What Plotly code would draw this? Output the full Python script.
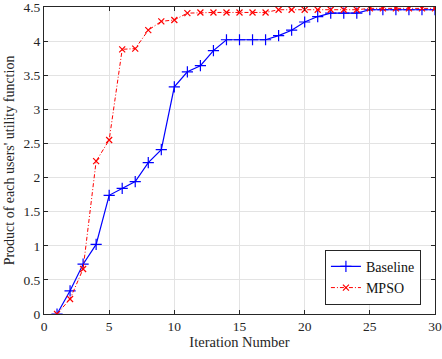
import plotly.graph_objects as go

iterations = list(range(1, 31))
baseline = [0, 0.34, 0.73, 1.02, 1.74, 1.84, 1.94, 2.22, 2.41, 3.33,
            3.55, 3.64, 3.86, 4.02, 4.02, 4.02, 4.02, 4.08, 4.16, 4.28,
            4.36, 4.41, 4.41, 4.41, 4.46, 4.46, 4.46, 4.46, 4.46, 4.46]
mpso = [0, 0.22, 0.66, 2.24, 2.55, 3.88, 3.89, 4.16, 4.29, 4.31,
        4.41, 4.42, 4.42, 4.42, 4.42, 4.42, 4.42, 4.46, 4.46, 4.46,
        4.46, 4.46, 4.46, 4.46, 4.48, 4.48, 4.48, 4.48, 4.48, 4.48]
x_ticks = [0, 5, 10, 15, 20, 25, 30]
y_ticks = [0, 0.5, 1, 1.5, 2, 2.5, 3, 3.5, 4, 4.5]

SERIF = "Liberation Serif"
DARK = "#262626"

fig = go.Figure()
fig.add_trace(go.Scatter(
    x=iterations, y=baseline, name="Baseline", mode="lines+markers",
    line=dict(color="#0000FF", width=1.2),
    marker=dict(symbol="cross-thin", size=8, color="#0000FF",
                line=dict(color="#0000FF", width=1.2))))
fig.add_trace(go.Scatter(
    x=iterations, y=mpso, name="MPSO", mode="lines+markers",
    line=dict(color="#FF0000", width=1, dash="4px,2px,1px,2px"),
    marker=dict(symbol="x-thin", size=6, color="#FF0000",
                line=dict(color="#FF0000", width=1.2))))

axis_common = dict(
    showline=True, linecolor=DARK, linewidth=1, mirror="ticks",
    ticks="inside", ticklen=4, tickcolor=DARK,
    showgrid=True, gridcolor="#E3E3E3", gridwidth=1, zeroline=False,
    automargin=False, ticklabeloverflow="allow",
    tickfont=dict(family=SERIF, size=13.5, color=DARK),
)
fig.update_xaxes(range=[0, 30], tickvals=x_ticks,
                 title=dict(text="Iteration Number", standoff=2,
                            font=dict(family=SERIF, size=14.5, color=DARK)),
                 **axis_common)
fig.update_yaxes(range=[0, 4.5], tickvals=y_ticks,
                 title=dict(text="Product of each users' utility function", standoff=5,
                            font=dict(family=SERIF, size=14, color=DARK)),
                 **axis_common)

fig.update_layout(
    width=442, height=359,
    margin=dict(l=44, r=7, t=7, b=45),
    paper_bgcolor="white", plot_bgcolor="white",
    font=dict(family=SERIF, size=13.5, color=DARK),
    legend=dict(x=0.964, y=0.03, xanchor="right", yanchor="bottom",
                bgcolor="white", bordercolor=DARK, borderwidth=1,
                font=dict(family=SERIF, size=14, color="#111111"),
                tracegroupgap=0, itemwidth=30),
)

fig.write_html("out.html", config={"displayModeBar": False},
               post_script="document.body.style.margin='0';document.body.style.overflow='hidden';")
